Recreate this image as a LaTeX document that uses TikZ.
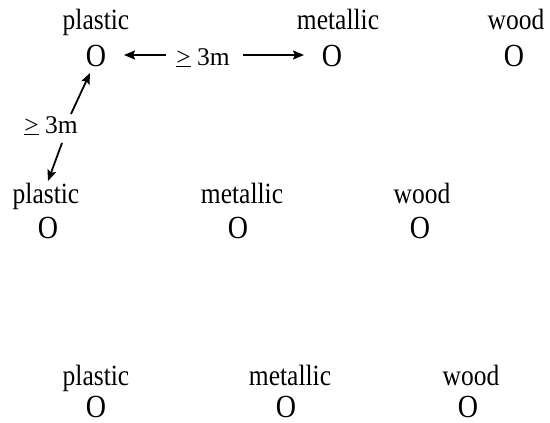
\documentclass[tikz,border=0pt]{standalone}
\usepackage{fontspec}
\setmainfont{Liberation Serif}
\usepackage{graphicx}
\usetikzlibrary{arrows.meta}
\newcommand{\tallt}[1]{\scalebox{1}[1.15]{#1}}
\begin{document}
\begin{tikzpicture}[x=1pt,y=-1pt,
  txt/.style={inner sep=0pt,anchor=base,font=\fontsize{25.5}{30}\selectfont},
  obj/.style={inner sep=0pt,anchor=base,font=\fontsize{28}{32}\selectfont},
  arr/.style={line width=1.8pt,-{Stealth[length=11pt,width=9pt,inset=2pt]}}]
\useasboundingbox (0,0) rectangle (550,423);
% row 1
\node[txt] (l11) at (96,30) {\tallt{plastic}};
\node[obj] (o11) at (96,66) {\tallt{O}};
\node[txt] (l12) at (338,30) {\tallt{metallic}};
\node[obj] (o12) at (332,66) {\tallt{O}};
\node[txt] (l13) at (516,30) {\tallt{wood}};
\node[obj] (o13) at (514,66) {\tallt{O}};
% row 2
\node[txt] (l21) at (46,203) {\tallt{plastic}};
\node[obj] (o21) at (48,238) {\tallt{O}};
\node[txt] (l22) at (242,203) {\tallt{metallic}};
\node[obj] (o22) at (238,238) {\tallt{O}};
\node[txt] (l23) at (422,203) {\tallt{wood}};
\node[obj] (o23) at (420,238) {\tallt{O}};
% row 3
\node[txt] (l31) at (96,385) {\tallt{plastic}};
\node[obj] (o31) at (96,417) {\tallt{O}};
\node[txt] (l32) at (290,385) {\tallt{metallic}};
\node[obj] (o32) at (286,417) {\tallt{O}};
\node[txt] (l33) at (471,385) {\tallt{wood}};
\node[obj] (o33) at (468,417) {\tallt{O}};
% distance labels
\node[txt] (d1) at (203,65) {\underline{>} 3m};
\node[txt] (d2) at (51,133) {\underline{>} 3m};
% connectors
\coordinate (h1) at (166,55);
\coordinate (h2) at (124,55);
\coordinate (h3) at (243,55);
\coordinate (h4) at (304,55);
\draw[arr] (h1) -- (h2);
\draw[arr] (h3) -- (h4);
\coordinate (u1) at (71,114);
\coordinate (u2) at (90,73);
\coordinate (v1) at (62,143);
\coordinate (v2) at (48,181);
\draw[arr] (u1) -- (u2);
\draw[arr] (v1) -- (v2);
\end{tikzpicture}
\end{document}
